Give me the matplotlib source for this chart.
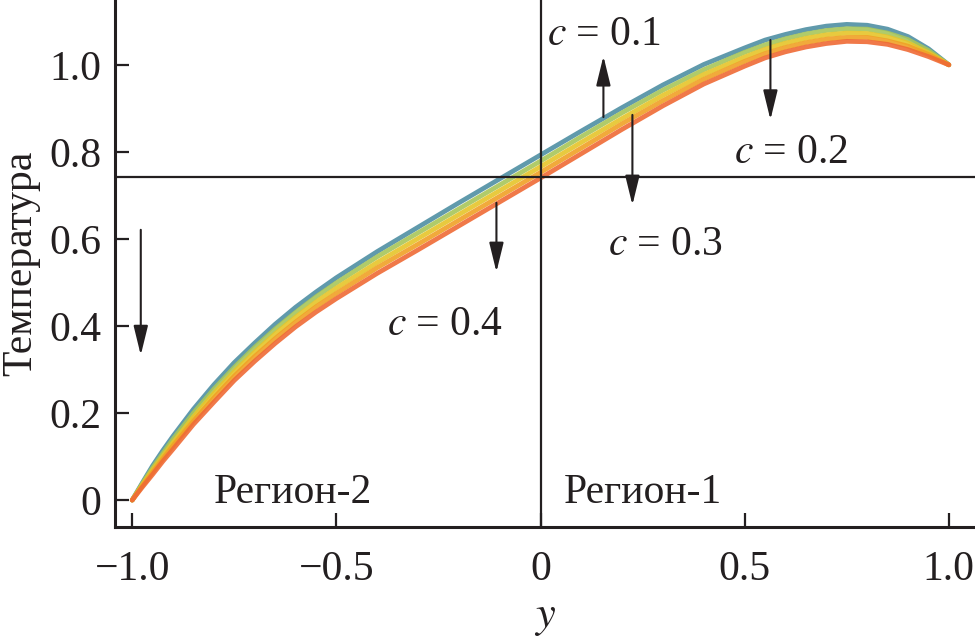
import matplotlib
matplotlib.use('Agg')
import matplotlib.pyplot as plt

plt.rcParams['font.family'] = ['Liberation Serif', 'DejaVu Serif']
plt.rcParams['mathtext.fontset'] = 'stix'

# Curve data (temperature vs y, five concentrations)
y_pos = [-1.0, -0.975, -0.95, -0.925, -0.9, -0.85, -0.8, -0.75, -0.7, -0.65, -0.6,
         -0.55, -0.5, -0.4, -0.3, -0.2, -0.1, 0.0, 0.1, 0.2, 0.3, 0.4, 0.5, 0.55,
         0.6, 0.65, 0.7, 0.75, 0.8, 0.85, 0.9, 0.95, 1.0]
temp_1 = [0, .040, .079, .114, .147, .209, .265, .316, .361, .404, .443,
          .478, .511, .571, .627, .683, .738, .793, .848, .902, .954, 1.001, 1.039, 1.057,
          1.070, 1.081, 1.089, 1.093, 1.091, 1.082, 1.065, 1.037, 1.0]
temp_2 = [0, .038, .074, .107, .140, .200, .255, .305, .351, .393, .431,
          .467, .499, .559, .614, .669, .724, .779, .835, .890, .942, .989, 1.029, 1.046,
          1.060, 1.071, 1.079, 1.083, 1.082, 1.073, 1.058, 1.033, 1.0]
temp_3 = [0, .035, .069, .101, .132, .191, .245, .295, .340, .382, .420,
          .455, .487, .546, .601, .656, .711, .766, .822, .877, .930, .978, 1.018, 1.036,
          1.050, 1.061, 1.069, 1.073, 1.072, 1.064, 1.050, 1.028, 1.0]
temp_4 = [0, .033, .064, .095, .125, .182, .235, .285, .330, .371, .409,
          .444, .475, .534, .588, .643, .698, .753, .809, .865, .918, .967, 1.008, 1.026,
          1.040, 1.051, 1.059, 1.063, 1.063, 1.055, 1.043, 1.024, 1.0]
temp_5 = [0, .030, .059, .089, .117, .174, .225, .275, .319, .360, .398,
          .432, .463, .521, .575, .630, .685, .740, .796, .852, .906, .956, .997, 1.016,
          1.030, 1.041, 1.049, 1.054, 1.053, 1.047, 1.035, 1.019, 1.0]
curves = [temp_1, temp_2, temp_3, temp_4, temp_5]
curve_colors = ['#4f8fa3', '#a8c65a', '#e6c52a', '#f0a126', '#ef6a35']

h_level = 0.742

x_ticks = [-1.0, -0.5, 0.0, 0.5, 1.0]
x_tick_labels = ['\u22121.0', '\u22120.5', '0', '0.5', '1.0']
y_ticks = [0.0, 0.2, 0.4, 0.6, 0.8, 1.0]
y_tick_labels = ['0', '0.2', '0.4', '0.6', '0.8', '1.0']

# annotations: (text, x, y)
labels = [('$c$ = 0.1', 0.017, 1.069), ('$c$ = 0.2', 0.475, 0.798),
          ('$c$ = 0.3', 0.164, 0.586), ('$c$ = 0.4', -0.375, 0.402),
          ('Регион-2', -0.80, 0.016), ('Регион-1', 0.057, 0.016)]
# arrows: (x, y_start, y_end)
arrows = [(-0.979, 0.621, 0.333), (-0.108, 0.683, 0.524), (0.154, 0.880, 1.020),
          (0.225, 0.885, 0.678), (0.563, 1.057, 0.874)]

ink = '#231f20'

fig = plt.figure(figsize=(9.75, 6.42), dpi=100)
ax = fig.add_axes((0.118, 0.179, 0.882, 0.821))

for vals, col in zip(curves, curve_colors):
    ax.plot(y_pos, vals, color=col, lw=3.4, alpha=0.9, solid_capstyle='round',
            solid_joinstyle='round', zorder=2)

ax.axhline(h_level, color=ink, lw=1.6, zorder=3)
ax.axvline(0, color=ink, lw=1.6, zorder=3)

for txt, tx, ty in labels:
    ax.text(tx, ty, txt, fontsize=30, color=ink, ha='left', va='center', zorder=4)

for ax_x, y0, y1 in arrows:
    ax.annotate('', xy=(ax_x, y1), xytext=(ax_x, y0),
                arrowprops=dict(arrowstyle='-|>,head_length=0.9,head_width=0.22',
                                mutation_scale=20, lw=1.5, color=ink,
                                shrinkA=0, shrinkB=0), zorder=4)

ax.set_xlim(-1.042, 1.064)
ax.set_ylim(-0.062, 1.149)

ax.set_xticks(x_ticks)
ax.set_xticklabels(x_tick_labels)
ax.set_yticks(y_ticks)
ax.set_yticklabels(y_tick_labels)
ax.tick_params(direction='in', length=10, width=1.6, labelsize=30, colors=ink)
ax.tick_params(axis='x', pad=17)
ax.tick_params(axis='y', pad=10)

for side in ['top', 'right']:
    ax.spines[side].set_visible(False)
for side in ['left', 'bottom']:
    ax.spines[side].set_linewidth(2.2)
    ax.spines[side].set_color(ink)

ax.set_xlabel('$y$', fontsize=32, color=ink, labelpad=6)
ax.set_ylabel('Температура', fontsize=30, color=ink, labelpad=6)

fig.savefig('out.png', dpi=100)
